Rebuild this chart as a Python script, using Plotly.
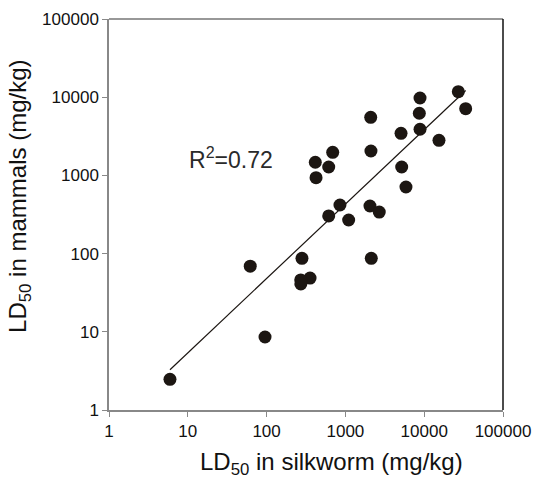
import numpy as np
import plotly.graph_objects as go

silkworm_ld50 = [27100, 33600, 8850, 8670, 8850, 5080, 15400, 2095, 2110, 5180,
                 5870, 690, 415, 614, 424, 853, 2050, 2690, 614, 1100,
                 281, 2130, 62, 356, 271, 272, 95.5, 5.94]
mammal_ld50 = [11750, 7130, 9770, 6230, 3890, 3450, 2810, 5530, 2050, 1280,
               711, 1975, 1472, 1280, 934, 418, 406, 340, 303, 269,
               87, 87, 69, 48.7, 46, 40.9, 8.58, 2.47]
tick_vals = [1, 10, 100, 1000, 10000, 100000]
tick_text = ["1", "10", "100", "1000", "10000", "100000"]
x_title = "LD<sub>50</sub> in silkworm (mg/kg)"
y_title = "LD<sub>50</sub> in mammals (mg/kg)"
r2_label = "R<sup>2</sup>=0.72"

lx = np.log10(silkworm_ld50)
ly = np.log10(mammal_ld50)
slope, intercept = np.polyfit(lx, ly, 1)
fit_x = np.array([min(silkworm_ld50), max(silkworm_ld50)])
fit_y = 10 ** (intercept + slope * np.log10(fit_x))

FONT = "Liberation Sans"

fig = go.Figure()
fig.add_trace(go.Scatter(x=fit_x, y=fit_y, mode="lines",
                         line=dict(color="#1a1410", width=1.2),
                         showlegend=False, hoverinfo="skip"))
fig.add_trace(go.Scatter(x=silkworm_ld50, y=mammal_ld50, mode="markers",
                         marker=dict(color="#1c1612", size=13, line=dict(width=0)),
                         showlegend=False))

axis_common = dict(type="log", tickmode="array", tickvals=tick_vals, ticktext=tick_text,
                   showgrid=False, zeroline=False, ticks="outside", ticklen=5,
                   tickcolor="#888", linecolor="#888", linewidth=1.5, showline=True,
                   automargin=False,
                   tickfont=dict(family=FONT, size=17, color="#111"))

fig.update_xaxes(range=[0, 5], **axis_common)
fig.update_yaxes(range=[0, 5], **axis_common)

# top and right frame
fig.add_shape(type="line", xref="paper", yref="paper", x0=0, x1=1, y0=1, y1=1,
              line=dict(color="#333", width=1.2))
fig.add_shape(type="line", xref="paper", yref="paper", x0=1, x1=1, y0=0, y1=1,
              line=dict(color="#111", width=1.5))

# axis titles
fig.add_annotation(x=0.565, y=0, xref="paper", yref="paper", text=x_title,
                   showarrow=False, xanchor="center", yanchor="middle", yshift=-53,
                   font=dict(family=FONT, size=24, color="#111"))
fig.add_annotation(x=0, y=0.545, xref="paper", yref="paper", text=y_title,
                   showarrow=False, textangle=-90, xanchor="center", yanchor="middle",
                   xshift=-89, font=dict(family=FONT, size=24, color="#111"))

fig.add_annotation(x=np.log10(35), y=np.log10(1650), xref="x", yref="y",
                   text=r2_label, showarrow=False, xanchor="center", yanchor="middle",
                   font=dict(family=FONT, size=23, color="#2a2a2a"))

fig.update_layout(width=537, height=480, margin=dict(l=109, r=34, t=19, b=70),
                  plot_bgcolor="white", paper_bgcolor="white")

fig.write_html("out.html", config={"displayModeBar": False},
               post_script="document.body.style.margin='0';document.body.style.overflow='hidden';")
